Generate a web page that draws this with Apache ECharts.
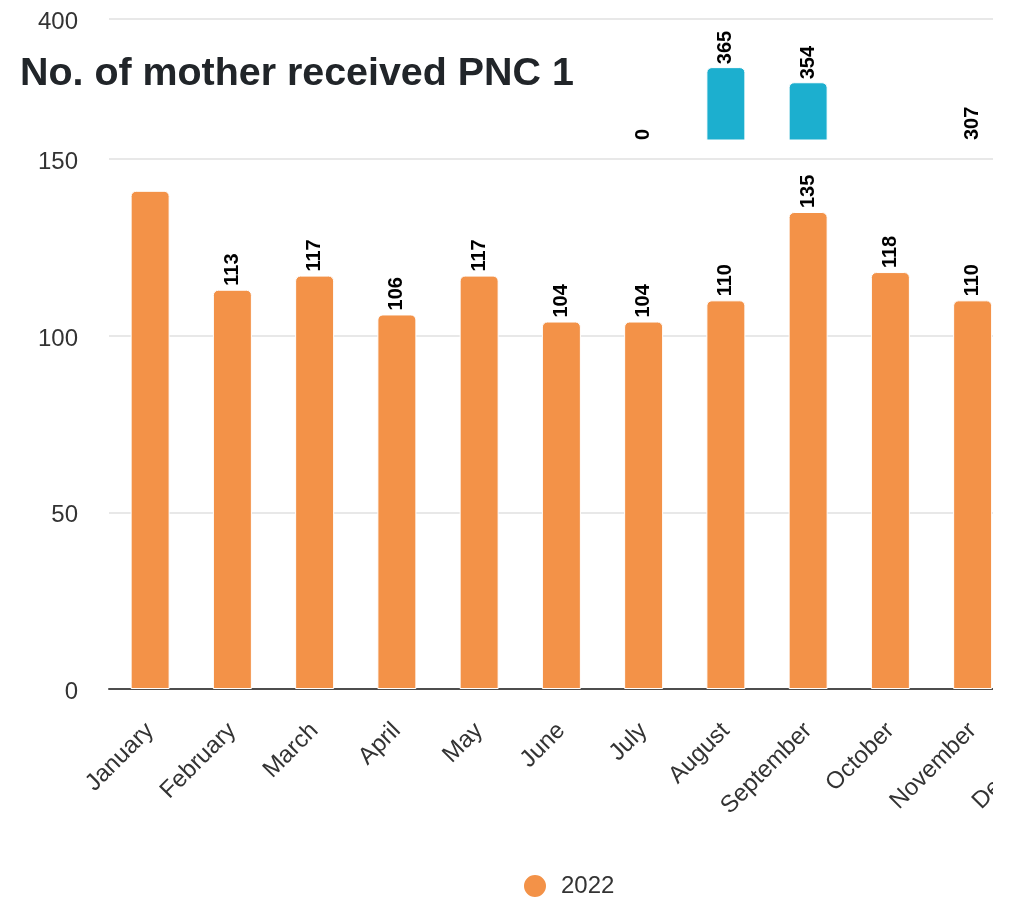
<!DOCTYPE html>
<html>
<head>
<meta charset="utf-8">
<script src="https://cdn.jsdelivr.net/npm/echarts@6/dist/echarts.min.js"></script>
<style>
html,body{margin:0;padding:0;background:#fff;overflow:hidden}
#wrap{width:993px;height:903px;overflow:hidden;position:relative}
#chart{width:1120px;height:903px}
</style>
</head>
<body>
<div id="wrap"><div id="chart"></div></div>
<script>
// ---- data ----
const months = ['January','February','March','April','May','June','July','August','September','October','November','December'];
const values2022 = [141,113,117,106,117,104,104,110,135,118,110,null];
const valuesUpper = [null,null,null,null,null,null,0,365,354,null,307,null];
const hiddenLabelMonths = ['January'];
const titleText = 'No. of mother received PNC 1';
const legendNames = ['2022'];
const lowerMin = 0, lowerMax = 150, lowerInterval = 50;
const upperMin = 312, upperMax = 400;

// ---- chart ----
const FONT = '"Liberation Sans", Arial, Helvetica, sans-serif';
const chart = echarts.init(document.getElementById('chart'), null, {renderer: 'canvas'});

const labelBase = {
  show: true, position: 'top', rotate: 90, align: 'left', verticalAlign: 'middle',
  distance: 4, color: '#000', fontSize: 20, fontWeight: 'bold', fontFamily: FONT
};

const lowerData = values2022.map((v, i) => hiddenLabelMonths.indexOf(months[i]) >= 0
  ? {value: v, label: {show: false}} : v);

// values that fall below the upper panel's floor sit on the floor with their own value as label
const upperInRange = valuesUpper.map(v => (v !== null && v >= upperMin) ? v : null);
const upperBelow = valuesUpper.map(v => (v !== null && v < upperMin)
  ? {value: upperMin, label: {formatter: String(v)}} : null);

const yLabel = {fontSize: 24, color: '#333', fontFamily: FONT, margin: 31, verticalAlign: 'top', lineHeight: 7};
const split = {color: '#e8e8e8', width: 2};
const barStyle = c => ({color: c, borderRadius: [5, 5, 0, 0], borderColor: '#fff', borderWidth: 1});

chart.setOption({
  animation: false,
  backgroundColor: '#fff',
  title: {
    text: titleText, left: 15, top: 50,
    textStyle: {fontSize: 39.4, fontWeight: 'bold', color: '#212529', fontFamily: FONT}
  },
  legend: {
    data: legendNames, left: 517, top: 868, icon: 'circle', itemWidth: 24, itemHeight: 24,
    textStyle: {fontSize: 24, color: '#333', fontFamily: FONT, padding: [0, 0, 0, 9]}
  },
  grid: [
    {left: 109, top: 19, width: 987, height: 121},
    {left: 109, top: 159, width: 987, height: 530}
  ],
  xAxis: [
    {gridIndex: 0, type: 'category', data: months, show: false},
    {gridIndex: 1, type: 'category', data: months,
     axisTick: {show: false},
     axisLine: {lineStyle: {color: '#4d4d4d', width: 2}},
     axisLabel: {rotate: 45, margin: 38, interval: 0, fontSize: 24, color: '#333', fontFamily: FONT}}
  ],
  yAxis: [
    {gridIndex: 0, type: 'value', min: upperMin, max: upperMax, interval: upperMax - upperMin,
     axisLabel: Object.assign({showMinLabel: false}, yLabel),
     splitLine: {showMinLine: false, lineStyle: split},
     axisLine: {show: false}, axisTick: {show: false}},
    {gridIndex: 1, type: 'value', min: lowerMin, max: lowerMax, interval: lowerInterval,
     axisLabel: yLabel,
     splitLine: {lineStyle: split},
     axisLine: {show: false}, axisTick: {show: false}}
  ],
  series: [
    {name: 'upper', type: 'bar', xAxisIndex: 0, yAxisIndex: 0, data: upperInRange,
     barWidth: 39, barGap: '-100%', itemStyle: barStyle('#1CAFCF'),
     label: Object.assign({}, labelBase, {distance: 3})},
    {name: 'upper-floor', type: 'bar', xAxisIndex: 0, yAxisIndex: 0, data: upperBelow,
     barWidth: 39, barGap: '-100%', itemStyle: {color: 'rgba(0,0,0,0)', borderWidth: 0},
     label: Object.assign({}, labelBase, {distance: 0})},
    {name: '2022', type: 'bar', xAxisIndex: 1, yAxisIndex: 1, data: lowerData,
     barWidth: 39, itemStyle: barStyle('#F39248'),
     label: labelBase}
  ]
});
</script>
</body>
</html>
